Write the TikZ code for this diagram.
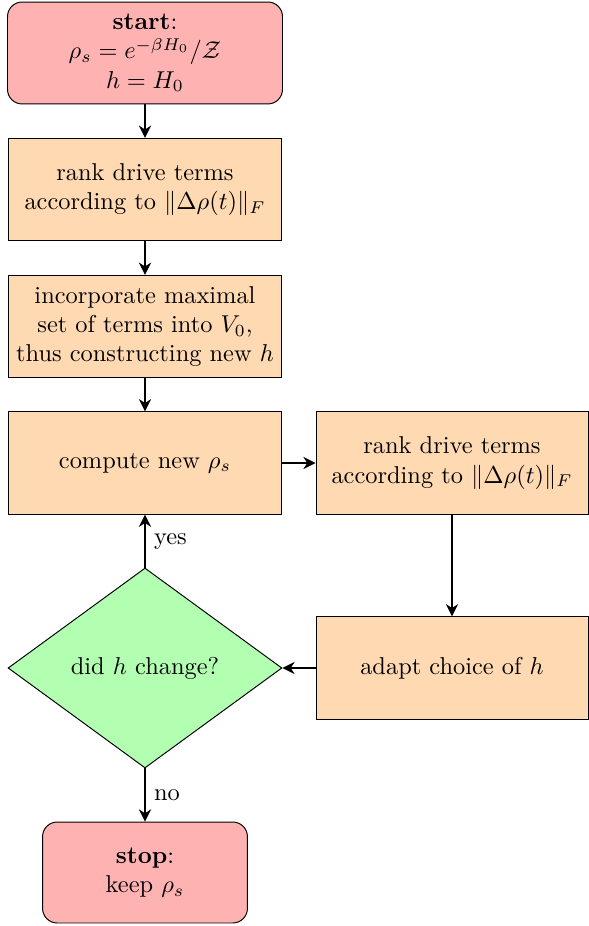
\documentclass[tikz,border=0pt]{standalone}
\usepackage{amsmath,amssymb}
\usetikzlibrary{shapes.geometric,arrows.meta}

\begin{document}
\begin{tikzpicture}[x=0.41pt,y=0.41pt,yscale=-1,
  termbox/.style={draw, rounded corners=6pt, fill=red!30, align=center, minimum width=112.75pt, minimum height=41.8pt},
  stepbox/.style={draw, fill=orange!30, align=center, inner xsep=1pt, minimum width=112.3pt, minimum height=42pt},
  askbox/.style={draw, diamond, fill=green!30, align=center, aspect=1.37, inner sep=1pt, minimum width=112.3pt, minimum height=82pt},
  flow/.style={-{Stealth[length=5pt,width=5pt]}, line width=0.8pt}]
\useasboundingbox (0,0) rectangle (588,926);

%Shape: start
\node [termbox] (start) at (145,53) {\textbf{start}:\\ $\rho_s = e^{-\beta H_0}/\mathcal{Z}$\\ $h = H_0$};
%Shape: first ranking
\node [stepbox] (rankone) at (145,189.5) {rank drive terms\\ according to $\|\Delta\rho(t)\|_F$};
%Shape: incorporate
\node [stepbox] (incorp) at (145,326.5) {incorporate maximal\\ set of terms into $V_0$,\\ thus constructing new $h$};
%Shape: compute
\node [stepbox] (compute) at (145,463) {compute new $\rho_s$};
%Shape: second ranking
\node [stepbox, minimum width=111.5pt] (ranktwo) at (452,463) {rank drive terms\\ according to $\|\Delta\rho(t)\|_F$};
%Shape: adapt
\node [stepbox, minimum width=111.5pt] (adapt) at (452,668) {adapt choice of $h$};
%Shape: decision
\node [askbox] (change) at (145,668) {did $h$ change?};
%Shape: stop
\node [termbox, minimum width=84pt, minimum height=41.4pt] (stop) at (145,872.5) {\textbf{stop}:\\ keep $\rho_s$};

%Straight Lines
\draw [flow] (start) -- (rankone);
\draw [flow] (rankone) -- (incorp);
\draw [flow] (incorp) -- (compute);
\draw [flow] (compute) -- (ranktwo);
\draw [flow] (ranktwo) -- (adapt);
\draw [flow] (adapt) -- (change);
\draw [flow] (change) -- node [right] {yes} (compute);
\draw [flow] (change) -- node [right] {no} (stop);
\end{tikzpicture}
\end{document}
